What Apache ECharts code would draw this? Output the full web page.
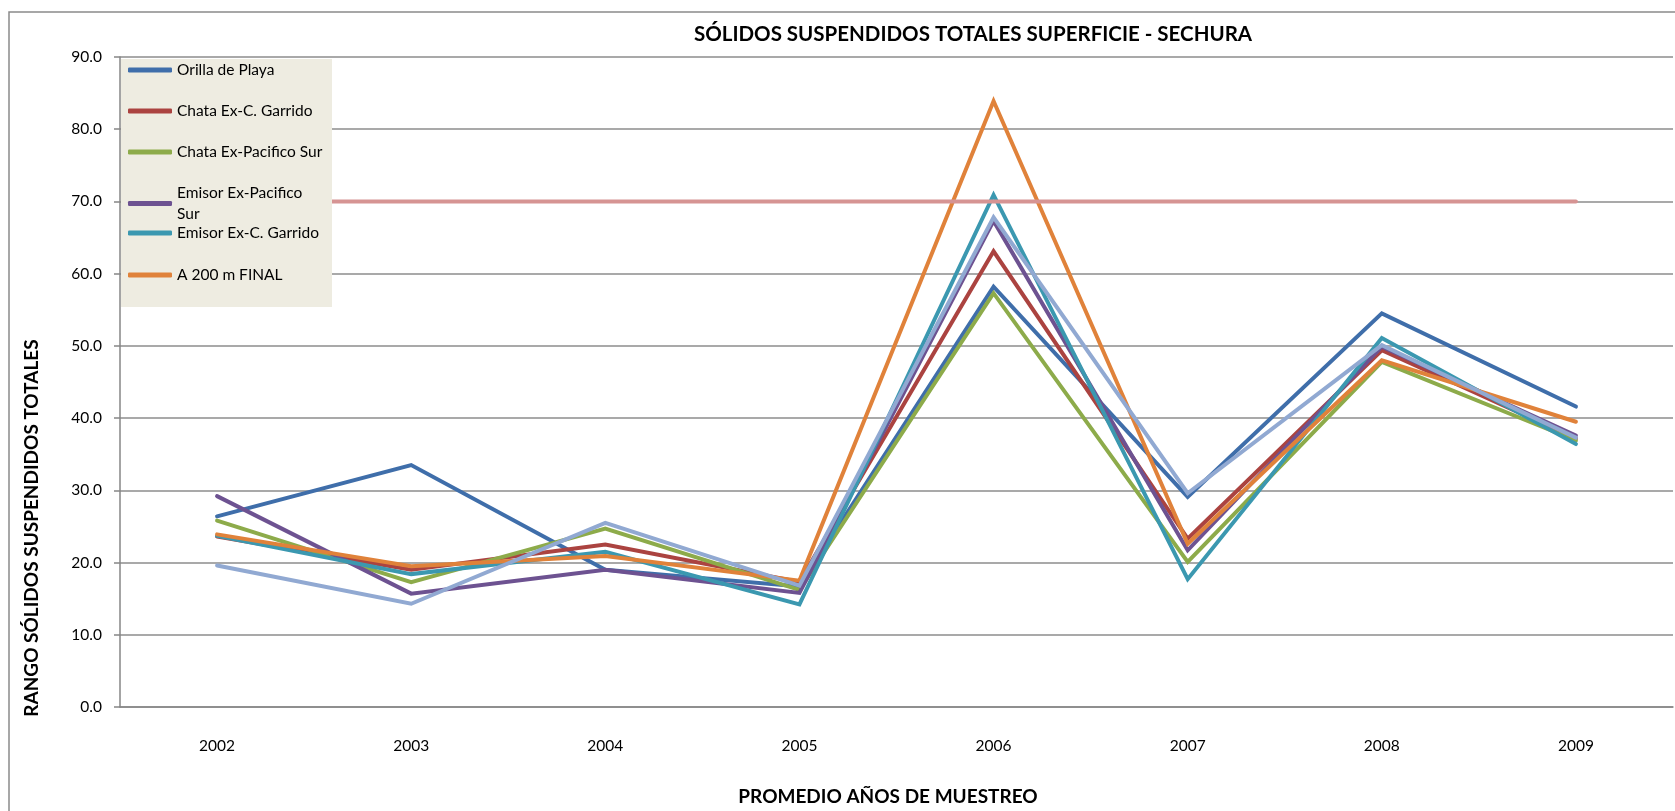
<!DOCTYPE html>
<html>
<head>
<meta charset="utf-8">
<script src="https://cdn.jsdelivr.net/npm/echarts@6/dist/echarts.min.js"></script>
<style>
html, body { margin: 0; padding: 0; background: #fff; }
#chart { width: 1675px; height: 811px; }
</style>
</head>
<body>
<div id="chart"></div>
<script>
// datos
var years = ['2002', '2003', '2004', '2005', '2006', '2007', '2008', '2009'];
var orillaPlaya    = [26.4, 33.5, 19.0, 16.7, 58.2, 29.1, 54.5, 41.6];
var chataGarrido   = [23.6, 19.0, 22.5, 17.3, 63.1, 23.3, 49.4, 37.2];
var chataPacifico  = [25.8, 17.3, 24.7, 16.2, 57.3, 20.1, 47.8, 36.9];
var emisorPacifico = [29.2, 15.7, 19.0, 15.8, 67.3, 21.7, 49.9, 37.6];
var emisorGarrido  = [23.7, 18.4, 21.5, 14.2, 70.9, 17.7, 51.1, 36.4];
var a200Final      = [23.9, 19.5, 20.9, 17.5, 83.9, 22.6, 48.0, 39.5];
var a200Inicial    = [19.6, 14.3, 25.5, 16.8, 67.8, 29.6, 50.1, 37.3];
var limite         = [70, 70, 70, 70, 70, 70, 70, 70];

var legendNames = ['Orilla de Playa', 'Chata Ex-C. Garrido', 'Chata Ex-Pacifico Sur',
    'Emisor Ex-Pacifico Sur', 'Emisor Ex-C. Garrido', 'A 200 m FINAL'];
var legendTops = [61, 102, 143, 184, 224, 266];

var font = 'Lato';

function serie(name, data, color) {
    return {
        name: name,
        type: 'line',
        data: data,
        symbol: 'none',
        showSymbol: false,
        lineStyle: { width: 4, color: color, cap: 'round', join: 'miter' },
        itemStyle: { color: color },
        emphasis: { disabled: true }
    };
}

var legends = [];
for (var i = 0; i < legendNames.length; ++i) {
    var lg = {
        data: [legendNames[i]],
        orient: 'vertical',
        left: 128,
        top: legendTops[i],
        padding: 0,
        zlevel: 1,
        z: 5,
        icon: 'roundRect',
        itemWidth: 44,
        itemHeight: 5,
        itemGap: 4,
        selectedMode: false,
        textStyle: { fontFamily: font, fontSize: 15.5, color: '#000', lineHeight: 18 }
    };
    if (legendNames[i] == 'Emisor Ex-Pacifico Sur') {
        lg.formatter = function () { return 'Emisor Ex-Pacifico\nSur'; };
        lg.textStyle.lineHeight = 21;
        lg.textStyle.padding = [21, 0, 0, 0];
        lg.top = legendTops[i] - 12;
    }
    legends.push(lg);
}

var chart = echarts.init(document.getElementById('chart'));
chart.setOption({
    animation: false,
    backgroundColor: '#fff',
    title: {
        text: 'SÓLIDOS SUSPENDIDOS TOTALES SUPERFICIE - SECHURA',
        left: 968,
        top: 19,
        textAlign: 'center',
        textStyle: { fontFamily: font, fontSize: 20.5, fontWeight: 'bold', color: '#000' }
    },
    legend: legends,
    grid: { left: 120, right: 2, top: 57, bottom: 94, containLabel: false },
    xAxis: {
        type: 'category',
        data: years,
        boundaryGap: true,
        name: 'PROMEDIO AÑOS DE MUESTREO',
        nameLocation: 'middle',
        nameGap: 80,
        nameTextStyle: { fontFamily: font, fontSize: 19, fontWeight: 'bold', color: '#000', padding: [0, 17, 0, 0] },
        axisLine: { lineStyle: { color: '#868686', width: 1.5 } },
        axisTick: { show: false },
        axisLabel: { fontFamily: font, fontSize: 15.5, color: '#000', margin: 31 },
        splitLine: { show: false }
    },
    yAxis: {
        type: 'value',
        min: 0,
        max: 90,
        interval: 10,
        axisLine: { show: true, lineStyle: { color: '#868686', width: 1.5 } },
        axisTick: { show: true, length: 6, lineStyle: { color: '#868686', width: 1.5 } },
        axisLabel: {
            fontFamily: font, fontSize: 15.5, color: '#000', margin: 18,
            formatter: function (v) { return v.toFixed(1); }
        },
        splitLine: { lineStyle: { color: '#8c8c8c', width: 1.5 } }
    },
    graphic: [
        {
            type: 'rect',
            shape: { x: 9, y: 12, width: 1700, height: 900 },
            style: { fill: 'none', stroke: '#8a8a8a', lineWidth: 1.5 },
            z: 0, silent: true
        },
        {
            type: 'rect',
            shape: { x: 121, y: 59, width: 211, height: 248 },
            style: { fill: '#eeece1' },
            zlevel: 1, z: 0, silent: true
        },
        {
            type: 'text',
            x: 32,
            y: 528,
            rotation: Math.PI / 2,
            style: {
                text: 'RANGO SÓLIDOS SUSPENDIDOS TOTALES',
                font: 'bold 19px ' + font,
                fill: '#000',
                textAlign: 'center',
                textVerticalAlign: 'middle'
            },
            z: 5
        }
    ],
    series: [
        serie('Orilla de Playa', orillaPlaya, '#3f6eaa'),
        serie('Chata Ex-C. Garrido', chataGarrido, '#ab4340'),
        serie('Chata Ex-Pacifico Sur', chataPacifico, '#8dab4a'),
        serie('Emisor Ex-Pacifico Sur', emisorPacifico, '#6d5291'),
        serie('Emisor Ex-C. Garrido', emisorGarrido, '#3b98b0'),
        serie('A 200 m FINAL', a200Final, '#e0823a'),
        serie('A 200 m INICIAL', a200Inicial, '#91a9d2'),
        serie('Límite', limite, '#d69493')
    ]
});
</script>
</body>
</html>
